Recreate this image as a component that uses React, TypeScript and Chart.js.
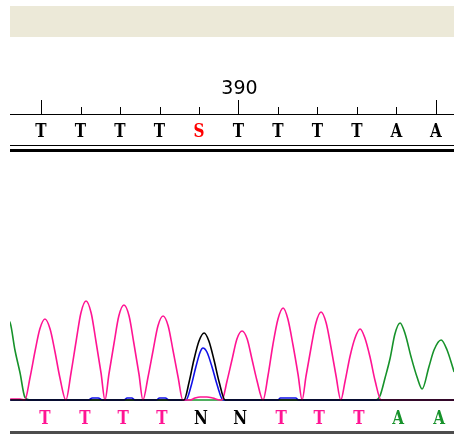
import React, { useEffect, useRef } from "react";
import { Chart, registerables } from "chart.js";

Chart.register(...registerables);

// Ruler (reference sequence) positions and labels
const rulerPositions = [385, 386, 387, 388, 389, 390, 391, 392, 393, 394, 395];
const majorTicks = [385, 390, 395];
const rulerLabels = [390];
const refBases = ["T", "T", "T", "T", "S", "T", "T", "T", "T", "A", "A"];

// Base calls under the trace
const callPositions = [385.1, 386.11, 387.08, 388.06, 389.05, 390.04, 391.08, 392.04, 393.05, 394.04, 395.08];
const callBases = ["T", "T", "T", "T", "N", "N", "T", "T", "T", "A", "A"];

// Trace channels: [position, intensity]
const traceT: [number, number][] = [
  [384.22, 1], [384.47, 1], [384.59, 0], [384.72, 22], [384.85, 49], [384.97, 71], [385.1, 81], [385.23, 71], [385.35, 49], [385.48, 22], [385.63, 0],
  [385.76, 27], [385.89, 59], [386.01, 87], [386.14, 99], [386.27, 87], [386.39, 59], [386.52, 27], [386.62, 0],
  [386.72, 26], [386.85, 57], [386.97, 84], [387.1, 95], [387.23, 84], [387.35, 57], [387.48, 26], [387.58, 0],
  [387.71, 23], [387.84, 50], [387.96, 74], [388.09, 84], [388.22, 74], [388.34, 50], [388.47, 23], [388.59, 0],
  [388.77, 0], [388.9, 2], [389.03, 3], [389.2, 3], [389.35, 2], [389.53, 0], [389.58, 0],
  [389.71, 19], [389.84, 41], [389.96, 61], [390.09, 69], [390.22, 61], [390.34, 41], [390.47, 19], [390.62, 0],
  [390.75, 25], [390.87, 55], [391.0, 81], [391.13, 92], [391.25, 81], [391.38, 55], [391.51, 25], [391.61, 0],
  [391.71, 24], [391.84, 53], [391.96, 77], [392.09, 88], [392.22, 77], [392.34, 53], [392.47, 24], [392.59, 0],
  [392.7, 19], [392.82, 43], [392.95, 62], [393.08, 71], [393.2, 62], [393.33, 43], [393.46, 19], [393.61, 0],
  [395.46, 0],
];
const traceA: [number, number][] = [
  [384.09, 82], [384.22, 77], [384.34, 50], [384.47, 27], [384.59, 3], [384.72, 0],
  [393.46, 0], [393.58, 4], [393.71, 22], [393.84, 42], [393.96, 66], [394.09, 77], [394.22, 66], [394.37, 43], [394.52, 23],
  [394.65, 11], [394.82, 33], [394.95, 50], [395.13, 60], [395.28, 50], [395.46, 28], [395.61, 10],
];
const traceC: [number, number][] = [
  [384.22, 0], [386.2, 0], [386.3, 2], [386.45, 2], [386.55, 0], [387.1, 0], [387.18, 2], [387.3, 2], [387.38, 0],
  [387.92, 0], [388.0, 2], [388.15, 2], [388.24, 0], [388.67, 0], [388.8, 14], [388.92, 33], [389.03, 48], [389.1, 52],
  [389.2, 48], [389.33, 33], [389.46, 15], [389.61, 0], [391.0, 0], [391.06, 2], [391.45, 2], [391.52, 0], [395.46, 0],
];
const traceG: [number, number][] = [
  [384.22, 0], [388.62, 0], [388.75, 18], [388.87, 40], [389.0, 59], [389.13, 67], [389.25, 59], [389.38, 40], [389.51, 18], [389.66, 0], [395.46, 0],
];

const baseColor: Record<string, string> = { T: "#FF1493", A: "#16922A", C: "#1010E8", G: "#000000", N: "#000000" };

function drawLetter(ctx: CanvasRenderingContext2D, ch: string, x: number, y: number) {
  ctx.save();
  ctx.translate(x, y);
  ctx.scale(0.8, 1);
  ctx.fillText(ch, 0, 0);
  ctx.restore();
}

const decor = {
  id: "chromaDecor",
  afterDraw(chart: any) {
    const ctx = chart.ctx as CanvasRenderingContext2D;
    const xs = chart.scales.x;
    const { left, right } = chart.chartArea;
    const w = right - left;
    ctx.save();
    ctx.fillStyle = "#ECE9D8";
    ctx.fillRect(left, 6, w, 31);
    ctx.fillStyle = "#000";
    ctx.fillRect(left, 114, w, 1);
    rulerPositions.forEach((p) => {
      const x = Math.round(xs.getPixelForValue(p));
      const major = majorTicks.includes(p);
      ctx.fillRect(x, major ? 100 : 107, 1, major ? 14 : 7);
    });
    ctx.textAlign = "center";
    ctx.textBaseline = "middle";
    ctx.font = '19px "DejaVu Sans"';
    rulerLabels.forEach((l) => ctx.fillText(String(l), xs.getPixelForValue(l) + 1, 89));
    ctx.font = 'bold 19px "DejaVu Serif"';
    refBases.forEach((b, i) => {
      ctx.fillStyle = b === "S" ? "#FF0000" : "#000";
      drawLetter(ctx, b, xs.getPixelForValue(rulerPositions[i]), 132);
    });
    ctx.fillStyle = "#000";
    ctx.fillRect(left, 145, w, 1);
    ctx.fillRect(left, 149, w, 3);
    callBases.forEach((b, i) => {
      ctx.fillStyle = baseColor[b];
      drawLetter(ctx, b, xs.getPixelForValue(callPositions[i]), 419);
    });
    ctx.fillStyle = "#4d4d4d";
    ctx.fillRect(left, 431, w, 3);
    ctx.restore();
  },
};

function toPts(arr: [number, number][]) {
  return arr.map(([x, y]) => ({ x, y }));
}

export default function App() {
  const ref = useRef<HTMLCanvasElement>(null);
  useEffect(() => {
    if (!ref.current) return;
    const mk = (label: string, data: [number, number][], color: string, order: number) => ({
      label,
      data: toPts(data),
      borderColor: color,
      borderWidth: 1.6,
      pointRadius: 0,
      fill: false,
      cubicInterpolationMode: "monotone" as const,
      order,
    });
    const chart = new Chart(ref.current, {
      type: "line",
      data: {
        datasets: [
          mk("G", traceG, baseColor.G, 0),
          mk("T", traceT, baseColor.T, 1),
          mk("C", traceC, baseColor.C, 2),
          mk("A", traceA, baseColor.A, 3),
        ],
      },
      options: {
        animation: false,
        responsive: true,
        maintainAspectRatio: false,
        layout: { padding: { left: 10, right: 0, top: 150, bottom: 31 } },
        scales: {
          x: { type: "linear", min: 384.215, max: 395.456, display: false },
          y: { min: -3, max: 250, display: false },
        },
        plugins: { legend: { display: false }, tooltip: { enabled: false } },
      },
      plugins: [decor],
    });
    return () => chart.destroy();
  }, []);
  return (
    <div style={{ position: "fixed", left: 0, top: 0, width: 454, height: 434, background: "#fff" }}>
      <canvas ref={ref} />
    </div>
  );
}
